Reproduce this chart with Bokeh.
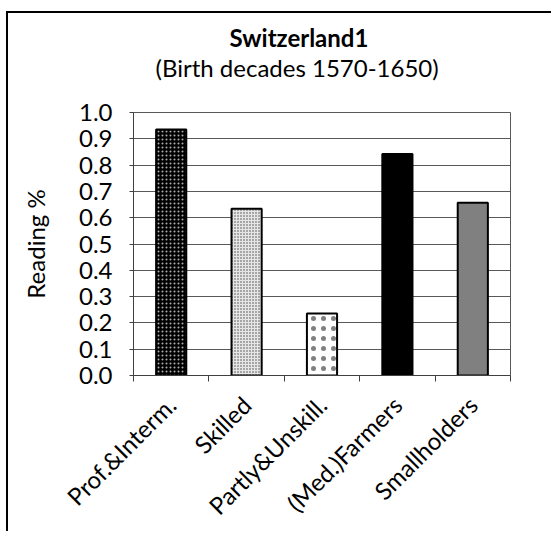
from bokeh.plotting import figure
from bokeh.models import (ColumnDataSource, FixedTicker, LinearAxis, PrintfTickFormatter,
                          Range1d, Title)
from bokeh.embed import file_html
from bokeh.resources import INLINE

# ---- data ----
categories = ["Prof.&Interm.", "Skilled", "Partly&Unskill.", "(Med.)Farmers", "Smallholders"]
reading = [0.935, 0.634, 0.236, 0.842, 0.657]
y_ticks = [0.0, 0.1, 0.2, 0.3, 0.4, 0.5, 0.6, 0.7, 0.8, 0.9, 1.0]
title_text = "Switzerland1"
subtitle_text = "(Birth decades 1570-1650)"
y_label = "Reading %"

# ---- styles ----
fills = ["#000000", "#e6e6e6", "white", "black", "#808080"]
hatches = ["dot", "dot", "dot", " ", " "]
hatch_colors = ["#b0b0b0", "#444444", "black", "black", "black"]
hatch_scales = [4.0, 3.0, 10.0, 12.0, 12.0]
hatch_weights = [1.5, 1.2, 0.4, 1.0, 1.0]
hatch_alphas = [1.0, 1.0, 0.5, 1.0, 1.0]

FONT = "Lato"
FS = "24px"
n = len(categories)
centers = [i + 0.5 for i in range(n)]
bounds = [float(i) for i in range(n + 1)]

src = ColumnDataSource(dict(x=centers, top=reading, fill=fills, hatch=hatches,
                            hcol=hatch_colors, hscale=hatch_scales, hweight=hatch_weights,
                            halpha=hatch_alphas))

p = figure(width=545, height=520, output_backend="svg", toolbar_location=None,
           x_range=Range1d(0, n), y_range=Range1d(0, 1.0),
           x_axis_location=None, y_axis_location=None,
           min_border_left=125, min_border_right=43, min_border_top=99, min_border_bottom=153,
           background_fill_color="white", border_fill_color="white")
p.styles = {"border-left": "2px solid black", "border-top": "2px solid black",
            "margin-top": "11px", "margin-left": "6px"}

p.outline_line_color = "#595959"
p.outline_line_width = 1

# titles
sub = Title(text=subtitle_text, align="left", offset=22, standoff=61,
            text_font=FONT, text_font_size=FS, text_font_style="normal", text_color="black")
main = Title(text=title_text, align="left", offset=96, standoff=-63,
             text_font=FONT, text_font_size=FS, text_font_style="bold", text_color="black")
p.add_layout(sub, "above")
p.add_layout(main, "above")

# y axis
yax = LinearAxis(ticker=FixedTicker(ticks=y_ticks), formatter=PrintfTickFormatter(format="%.1f"),
                 axis_label=y_label, axis_label_standoff=26,
                 axis_label_text_font=FONT, axis_label_text_font_size=FS,
                 axis_label_text_font_style="normal", axis_label_text_color="black",
                 major_label_text_font=FONT, major_label_text_font_size=FS,
                 major_label_text_color="black", major_label_standoff=17,
                 major_tick_out=4, major_tick_in=0, minor_tick_out=0, minor_tick_in=0,
                 axis_line_color="#404040", major_tick_line_color="#404040")
p.add_layout(yax, "left")

# x axis: boundary ticks (no labels)
xtick = LinearAxis(ticker=FixedTicker(ticks=bounds),
                   major_label_overrides={b: "" for b in bounds},
                   major_label_text_font_size="1px", major_label_standoff=0,
                   major_tick_out=6, major_tick_in=0, minor_tick_out=0, minor_tick_in=0,
                   axis_line_color="#404040", major_tick_line_color="#404040")
p.add_layout(xtick, "below")

# x axis: category labels
xlab = LinearAxis(ticker=FixedTicker(ticks=centers),
                  major_label_overrides={c: cat for c, cat in zip(centers, categories)},
                  major_label_orientation=0.785398, major_label_standoff=13,
                  major_label_text_font=FONT, major_label_text_font_size=FS,
                  major_label_text_color="black",
                  axis_line_color=None, major_tick_line_color=None, minor_tick_line_color=None)
p.add_layout(xlab, "below")

# grid
p.ygrid.ticker = FixedTicker(ticks=y_ticks)
p.ygrid.grid_line_color = "#595959"
p.ygrid.grid_line_width = 1
p.xgrid.grid_line_color = None

p.vbar(x="x", top="top", width=0.4, bottom=0, source=src,
       fill_color="fill", hatch_pattern="hatch", hatch_color="hcol",
       hatch_scale="hscale", hatch_weight="hweight", hatch_alpha="halpha",
       line_color="black", line_width=2)

open("out.html", "w").write(file_html(p, INLINE))
